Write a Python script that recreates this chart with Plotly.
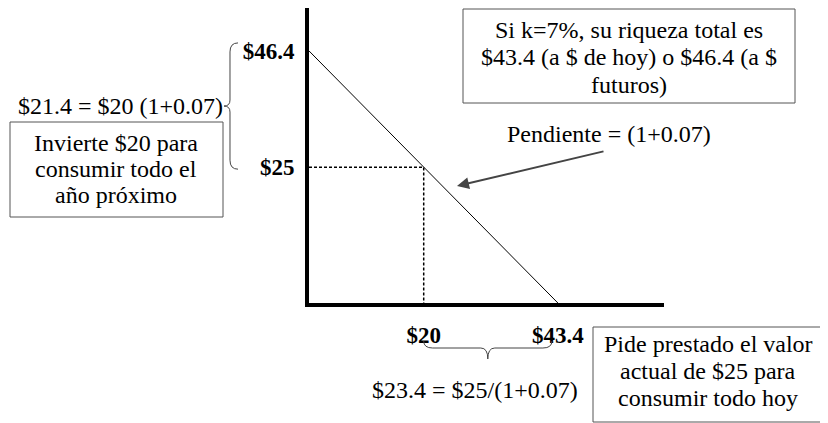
import plotly.graph_objects as go

# ---------------- data ----------------
budget_x = [0, 43.4]          # consumo hoy
budget_y = [46.4, 0]          # consumo año próximo
point_x = 20                  # invierte / consume hoy
point_y = 25                  # consumo año próximo
x_tick_vals = [20, 43.4]
x_tick_text = ["<b>$20</b>", "<b>$43.4</b>"]
y_tick_vals = [25, 46.4]
y_tick_text = ["<b>$25</b>", "<b>$46.4</b>"]
x_range = [0, 61.9]
y_range = [0, 54.3]

# ---------------- layout geometry (window pixels) ----------------
# the page body has an 8px margin, so the figure is 8px smaller each way
# and window pixel coordinates are shifted by OFF when converted to paper.
OFF = 8
W, H = 828 - OFF, 423 - OFF
PL, PR, PT, PB = 309, 664, 8, 303
FONT = "Liberation Serif, Times New Roman, serif"


def px(x):
    return (x - OFF) / W


def py(y):
    return 1 - (y - OFF) / H


def xpx(v):
    return PL + (v - x_range[0]) / (x_range[1] - x_range[0]) * (PR - PL)


def ypx(v):
    return PB - (v - y_range[0]) / (y_range[1] - y_range[0]) * (PB - PT)


def path(cmds):
    out = []
    for c in cmds:
        if isinstance(c, str):
            out.append(c)
        else:
            out.append(f"{px(c[0]):.5f},{py(c[1]):.5f}")
    return " ".join(out)


fig = go.Figure()
fig.add_trace(go.Scatter(x=budget_x, y=budget_y, mode="lines",
                         line=dict(color="black", width=1), hoverinfo="skip"))
fig.add_trace(go.Scatter(x=[0, point_x, point_x], y=[point_y, point_y, 0], mode="lines",
                         line=dict(color="black", width=1.5, dash="3px,2px"), hoverinfo="skip"))

ann = []


def text(t, x, y, size=24, xanchor="center"):
    ann.append(dict(text=t, x=px(x), y=py(y), xref="paper", yref="paper",
                    xanchor=xanchor, yanchor="middle", showarrow=False,
                    font=dict(family=FONT, size=size, color="black")))


# left box
for t, y in zip(["Invierte $20 para", "consumir todo el", "año próximo"], [143, 169, 195]):
    text(t, 116, y)
# top-right box
for t, y in zip(["Si k=7%, su riqueza total es", "$43.4 (a $ de hoy) o $46.4 (a $", "futuros)"], [30, 57, 85]):
    text(t, 629, y)
# bottom-right box
for t, y in zip(["Pide prestado el valor", "actual de $25 para", "consumir todo hoy"], [344, 371, 398]):
    text(t, 708, y)

# brace labels
ytop = ypx(budget_y[0]) - 8
ybot = ypx(point_y) + 2
ymid = (ytop + ybot) / 2
text("$21.4 = $20 (1+0.07)", 120, ymid)
text("$23.4 = $25/(1+0.07)", 475, 390)
text("Pendiente = (1+0.07)", 609, 134)

# slope arrow
ann.append(dict(text="", x=px(457), y=py(186), xref="paper", yref="paper",
                ax=148, ay=-35, axref="pixel", ayref="pixel", showarrow=True,
                arrowhead=2, arrowsize=1.2, arrowwidth=2, arrowcolor="#444"))

shapes = []
for (x0, y0, x1, y1) in [(10, 122, 223, 217), (463, 9, 795, 103), (593, 327, 822, 422)]:
    shapes.append(dict(type="rect", xref="paper", yref="paper",
                       x0=px(x0), x1=px(x1), y0=py(y0), y1=py(y1),
                       line=dict(color="#555", width=1), fillcolor="rgba(0,0,0,0)"))

# left brace
bx = 230
shapes.append(dict(type="path", xref="paper", yref="paper", line=dict(color="#444", width=1),
                   path=path(["M", (bx + 8, ytop), "Q", (bx, ytop), (bx, ytop + 9),
                              "L", (bx, ymid - 6), "Q", (bx, ymid), (bx - 6, ymid),
                              "Q", (bx, ymid), (bx, ymid + 6),
                              "L", (bx, ybot - 9), "Q", (bx, ybot), (bx + 8, ybot)])))
# bottom brace
xl = xpx(point_x)
xr = xpx(budget_x[1]) - 6
xm = (xl + xr) / 2
yb0, yb1, yb2 = 341, 348, 359
shapes.append(dict(type="path", xref="paper", yref="paper", line=dict(color="#444", width=1),
                   path=path(["M", (xl, yb0), "Q", (xl, yb1), (xl + 9, yb1),
                              "L", (xm - 7, yb1), "Q", (xm, yb1), (xm, yb2),
                              "Q", (xm, yb1), (xm + 7, yb1),
                              "L", (xr - 9, yb1), "Q", (xr, yb1), (xr, yb0)])))

fig.update_layout(
    width=W, height=H, margin=dict(l=0, r=0, t=0, b=0),
    paper_bgcolor="white", plot_bgcolor="white", showlegend=False,
    annotations=ann, shapes=shapes,
    xaxis=dict(domain=[px(PL), px(PR)], range=x_range, showgrid=False, zeroline=False,
               showline=True, linecolor="black", linewidth=4, ticks="",
               tickvals=x_tick_vals, ticktext=x_tick_text, ticklabelstandoff=8,
               tickfont=dict(family=FONT, size=23, color="black")),
    yaxis=dict(domain=[py(PB), py(PT)], range=y_range, showgrid=False, zeroline=False,
               showline=True, linecolor="black", linewidth=4, ticks="",
               tickvals=y_tick_vals, ticktext=y_tick_text, ticklabelstandoff=6,
               tickfont=dict(family=FONT, size=23, color="black")),
)
fig.write_html("out.html")
